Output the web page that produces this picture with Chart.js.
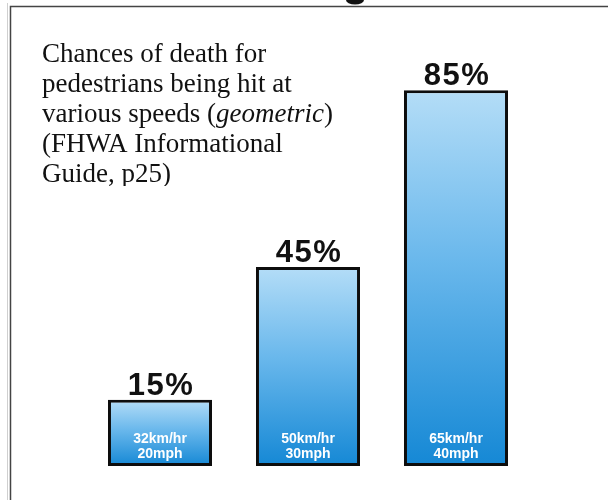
<!DOCTYPE html>
<html>
<head>
<meta charset="utf-8">
<script src="https://cdn.jsdelivr.net/npm/chart.js@4/dist/chart.umd.min.js"></script>
<style>
html,body{margin:0;padding:0;background:#fff;}
#wrap{position:relative;width:608px;height:500px;}
</style>
</head>
<body>
<div id="wrap"><canvas id="c" width="608" height="500"></canvas></div>
<script>
const categories = ["32km/hr\n20mph", "50km/hr\n30mph", "65km/hr\n40mph"];
const deathChance = [15, 45, 85];
const valueLabels = ["15%", "45%", "85%"];
const titleLines = [
  [["Chances of death for", false]],
  [["pedestrians being hit at", false]],
  [["various speeds (", false], ["geometric", true], [")", false]],
  [["(FHWA Informational", false]],
  [["Guide, p25)", false]]
];

function barGradient(ctx) {
  const chart = ctx.chart;
  const area = chart.chartArea;
  if (!area || ctx.type !== 'data') return '#4aa6e6';
  const y = chart.scales.y;
  const v = ctx.raw;
  const top = y.getPixelForValue(v);
  const bottom = y.getPixelForValue(0);
  const g = chart.ctx.createLinearGradient(0, top, 0, bottom);
  g.addColorStop(0, '#b4ddf7');
  g.addColorStop(0.45, '#6ab8ec');
  g.addColorStop(1, '#1588d5');
  return g;
}

const decor = {
  id: 'decor',
  beforeDraw(chart) {
    const c = chart.ctx;
    c.save();
    c.fillStyle = '#fff';
    c.fillRect(0, 0, chart.width, chart.height);
    // frame
    c.strokeStyle = '#cfcfcf';
    c.lineWidth = 1;
    c.beginPath();
    c.moveTo(7.5, 3); c.lineTo(7.5, 500);
    c.stroke();
    c.strokeStyle = '#444';
    c.lineWidth = 1.5;
    c.beginPath();
    c.moveTo(10.5, 500); c.lineTo(10.5, 6.5); c.lineTo(608, 6.5);
    c.stroke();
    // cropped glyph from heading above
    c.fillStyle = '#111';
    c.beginPath();
    c.ellipse(355, 0, 9, 4.5, 0, 0, Math.PI);
    c.fill();
    // title text
    c.save();
    c.beginPath();
    c.rect(11, 8, 330, 178);
    c.clip();
    c.fillStyle = '#111';
    c.textBaseline = 'alphabetic';
    let yb = 62;
    titleLines.forEach(line => {
      let x = 42;
      line.forEach(([t, it]) => {
        c.font = (it ? 'italic ' : '') + '27px "Liberation Serif", "Times New Roman", serif';
        c.fillText(t, x, yb);
        x += c.measureText(t).width;
      });
      yb += 30;
    });
    c.restore();
    c.restore();
  },
  afterDatasetsDraw(chart) {
    const c = chart.ctx;
    const meta = chart.getDatasetMeta(0);
    c.save();
    c.textAlign = 'center';
    meta.data.forEach((bar, i) => {
      c.fillStyle = '#111';
      c.font = 'bold 31px "Liberation Sans", Arial, sans-serif';
      c.textBaseline = 'alphabetic';
      c.letterSpacing = '1.5px';
      c.fillText(valueLabels[i], bar.x + 1, bar.y - 5);
      c.letterSpacing = '0px';
      const lines = categories[i].split('\n');
      c.fillStyle = '#fff';
      c.font = 'bold 14px "Liberation Sans", Arial, sans-serif';
      c.textBaseline = 'middle';
      lines.forEach((l, k) => {
        c.fillText(l, bar.x, bar.base - 27 + k * 15);
      });
    });
    c.restore();
  }
};

new Chart(document.getElementById('c'), {
  type: 'bar',
  data: {
    labels: categories,
    datasets: [{
      data: deathChance,
      backgroundColor: barGradient,
      borderColor: '#0d0d0d',
      borderWidth: 3,
      borderSkipped: false,
      barPercentage: 1,
      categoryPercentage: 0.703
    }]
  },
  options: {
    responsive: false,
    animation: false,
    devicePixelRatio: 1,
    layout: { padding: { left: 86, right: 78, top: 24, bottom: 34 } },
    plugins: { legend: { display: false }, tooltip: { enabled: false }, title: { display: false } },
    scales: {
      x: { display: false },
      y: { display: false, min: 0, max: 100 }
    }
  },
  plugins: [decor]
});
</script>
</body>
</html>
